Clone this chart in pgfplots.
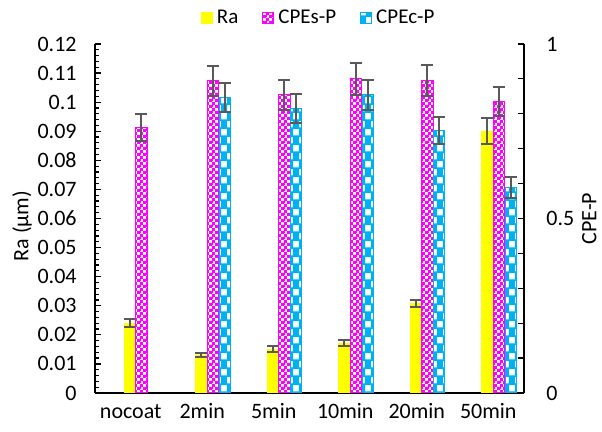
\documentclass[border=0pt]{standalone}
\usepackage{fontspec}
\setmainfont{Carlito}
\usepackage{pgfplots}
\pgfplotsset{compat=1.18}
\usetikzlibrary{patterns,patterns.meta}
\definecolor{cyanb}{HTML}{00B0F0}
\definecolor{errgray}{HTML}{595959}
\definecolor{mag}{HTML}{FF00FF}
\definecolor{yel}{HTML}{FFFF00}

\tikzdeclarepattern{
  name=magpat, type=uncolored,
  bounding box={(0pt,0pt) and (3pt,3pt)},
  tile size={(3pt,3pt)},
  code={\fill (0pt,0pt) rectangle (1.6pt,1.5pt); \fill (1.5pt,1.5pt) rectangle (3pt,3pt);
        \fill (1.5pt,0.6pt) rectangle (2.1pt,1.5pt);}
}
\tikzdeclarepattern{
  name=cyanpat, type=uncolored,
  bounding box={(0pt,0pt) and (6pt,8pt)},
  tile size={(6pt,8pt)},
  code={\fill[even odd rule] (0pt,0pt) rectangle (6pt,8pt)
          (0.1pt,0.3pt) rectangle (3pt,3.6pt)
          (3.1pt,4.3pt) rectangle (6pt,7.6pt);}
}

\pgfplotsset{
  errstyle/.style={
    error bars/.cd, y dir=both, y explicit,
    error bar style={line width=1pt, errgray},
    error mark options={rotate=90, mark size=3pt, line width=1pt, errgray}
  }
}

\begin{document}
\begin{tikzpicture}
\useasboundingbox (0,0) rectangle (301pt,216pt);
\begin{axis}[
  at={(47.5pt,19.5pt)}, anchor=south west,
  scale only axis, width=214.5pt, height=174.5pt,
  xmin=-0.5, xmax=5.5, ymin=0, ymax=0.12,
  axis y line*=left, axis x line*=bottom,
  axis line style={-, line width=0.8pt, black},
  xtick={0,1,2,3,4,5},
  xticklabels={nocoat,2min,5min,10min,20min,50min},
  x tick style={draw=none},
  ytick={0,0.01,0.02,0.03,0.04,0.05,0.06,0.07,0.08,0.09,0.1,0.11,0.12},
  minor y tick num=4,
  scaled y ticks=false,
  tick align=inside,
  major tick length=3pt, minor tick length=2pt,
  y tick style={black, line width=0.6pt},
  /pgf/number format/assume math mode=true,
  yticklabel style={/pgf/number format/fixed, /pgf/number format/precision=2, anchor=east, inner sep=0pt, xshift=-9pt},
  xticklabel style={anchor=base, inner sep=0pt, yshift=-13pt},
  tick label style={font=\fontsize{11}{13}\selectfont},
  ylabel={Ra (µm)},
  every axis y label/.style={at={(axis description cs:-0.170,0.478)}, rotate=90, anchor=center, font=\fontsize{11}{13}\selectfont},
]
% Ra bars, drawn just left of each category centre
\addplot[ybar, bar width=0.16, bar shift=0pt, fill=yel, draw=yel, line width=0.3pt, errstyle]
  coordinates {(-0.011,0.0240) +- (0,0.0014) (0.989,0.0131) +- (0,0.00075) (1.989,0.0151) +- (0,0.001)
               (2.989,0.0171) +- (0,0.001) (3.989,0.0308) +- (0,0.0012) (4.989,0.0901) +- (0,0.0045)};
\end{axis}
\begin{axis}[
  at={(47.5pt,19.5pt)}, anchor=south west,
  scale only axis, width=214.5pt, height=174.5pt,
  xmin=-0.5, xmax=5.5, ymin=0, ymax=1,
  axis y line*=right, axis x line=none,
  axis line style={-, line width=0.8pt, black},
  ytick={0,0.5,1},
  minor y tick num=4,
  tick align=inside,
  major tick length=3pt, minor tick length=3pt,
  y tick style={black, line width=0.6pt},
  /pgf/number format/assume math mode=true,
  yticklabel style={anchor=west, inner sep=0pt, xshift=11pt},
  tick label style={font=\fontsize{11}{13}\selectfont},
  ylabel={CPE-P},
  every axis y label/.style={at={(axis description cs:1.152,0.5)}, rotate=90, anchor=center, font=\fontsize{11}{13}\selectfont},
  legend image code/.code={\draw[#1] (0pt,-2.75pt) rectangle (5.5pt,2.75pt);},
  legend style={at={(axis description cs:0.524,1.075)}, anchor=center, draw=none, fill=none,
     legend columns=-1, font=\fontsize{10.5}{12}\selectfont,
     /tikz/every even column/.append style={column sep=10pt}},
]
\addlegendimage{fill=yel, draw=yel}
\addlegendentry{Ra}
% CPEs-P, offset +0.15 from category centre
\addplot[ybar, bar width=0.16, bar shift=0pt, draw=mag, line width=0.5pt, pattern=magpat, pattern color=mag, errstyle]
  coordinates {(0.15,0.760) +- (0,0.038) (1.15,0.894) +- (0,0.043) (2.15,0.854) +- (0,0.042)
               (3.15,0.900) +- (0,0.045) (4.15,0.895) +- (0,0.045) (5.15,0.835) +- (0,0.042)};
\addlegendentry{CPEs-P}
% CPEc-P, offset +0.315 from category centre
\addplot[ybar, bar width=0.16, bar shift=0pt, draw=cyanb, line width=0.5pt, pattern=cyanpat, pattern color=cyanb, errstyle]
  coordinates {(1.315,0.847) +- (0,0.042) (2.315,0.816) +- (0,0.041)
               (3.315,0.854) +- (0,0.043) (4.315,0.752) +- (0,0.038) (5.315,0.589) +- (0,0.030)};
\addlegendentry{CPEc-P}
\end{axis}
\end{tikzpicture}
\end{document}
